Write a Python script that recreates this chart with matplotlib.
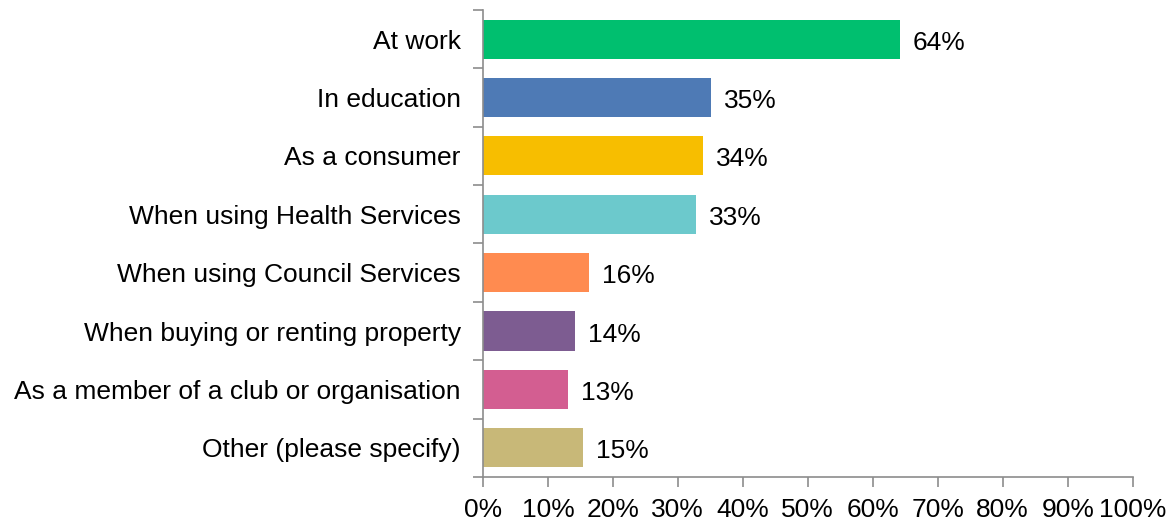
import matplotlib.pyplot as plt
import numpy as np

plt.rcParams['font.family'] = ['Liberation Sans', 'DejaVu Sans']

# Survey responses: where discrimination was experienced
categories = [
    'At work',
    'In education',
    'As a consumer',
    'When using Health Services',
    'When using Council Services',
    'When buying or renting property',
    'As a member of a club or organisation',
    'Other (please specify)',
]
shares = [64.2, 35.1, 33.8, 32.8, 16.4, 14.2, 13.1, 15.4]
colors = ['#00BF6F', '#4E7AB5', '#F7BE00', '#6CC9CC',
          '#FF8B50', '#7D5C91', '#D35E91', '#C8B878']
x_ticks = np.arange(0, 101, 10)

fs = 19

fig = plt.figure(figsize=(11.75, 5.23), dpi=100)
ax = fig.add_axes([0.411, 0.088, 0.553, 0.893])

y = np.arange(len(categories))
ax.barh(y, shares, height=0.67, color=colors)

for yi, v in zip(y, shares):
    ax.text(v + 2.0, yi + 0.06, f'{v:.0f}%', va='center', ha='left', fontsize=fs)

ax.set_xlim(0, 100)
ax.set_ylim(len(categories) - 0.5, -0.5)
ax.set_xticks(x_ticks)
ax.set_xticklabels([f'{t}%' for t in x_ticks], fontsize=fs)

# category labels sit between boundary ticks
ax.set_yticks(y)
ax.set_yticklabels(categories, fontsize=fs)
ax.tick_params(axis='y', which='major', length=0, pad=16)
ax.set_yticks(np.arange(-0.5, len(categories)), minor=True)
ax.tick_params(axis='y', which='minor', length=7, color='#8C8C8C', width=1.2)
ax.tick_params(axis='x', length=7, color='#8C8C8C', width=1.2, pad=8)

for side in ['top', 'right']:
    ax.spines[side].set_visible(False)
for side in ['left', 'bottom']:
    ax.spines[side].set_color('#8C8C8C')
    ax.spines[side].set_linewidth(1.2)

plt.savefig('out.png', dpi=100)
